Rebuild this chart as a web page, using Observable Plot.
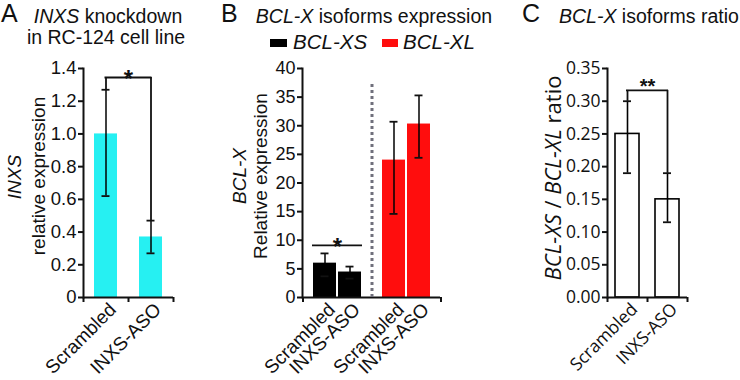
<!DOCTYPE html>
<html><head><meta charset="utf-8">
<script src="https://cdn.jsdelivr.net/npm/d3@7"></script>
<script src="https://cdn.jsdelivr.net/npm/@observablehq/plot@0.6"></script>
<style>
body{margin:0;background:#fff;}
#wrap{position:relative;width:740px;height:380px;overflow:hidden;font-family:"Liberation Sans",Arial,sans-serif;color:#111;background:#fff;}
.abs{position:absolute;white-space:nowrap;}
.ctr{transform:translateX(-50%);}
.panel{position:absolute;top:0;height:380px;}
.rot{position:absolute;white-space:nowrap;transform:translate(-50%,-50%) rotate(-90deg);}
.sw{position:absolute;}
</style></head><body>
<div id="wrap">
  <div class="panel" id="pa" style="left:0;width:190px"></div>
  <div class="panel" id="pb" style="left:190px;width:310px"></div>
  <div class="panel" id="pc" style="left:500px;width:240px"></div>

  <div class="abs" style="left:1px;top:1px;font-size:25px;line-height:25px">A</div>
  <div class="abs ctr" style="left:108px;top:7px;font-size:19.5px;line-height:19.5px"><i>INXS</i> knockdown</div>
  <div class="abs ctr" style="left:106px;top:28px;font-size:19.5px;line-height:19.5px">in RC-124 cell line</div>
  <div class="rot" style="left:14px;top:177px;font-size:19px;line-height:19px"><i>INXS</i></div>
  <div class="rot" style="left:38px;top:176px;font-size:19px;line-height:19px">relative expression</div>

  <div class="abs" style="left:221px;top:1px;font-size:25px;line-height:25px">B</div>
  <div class="abs ctr" style="left:374px;top:7px;font-size:19.5px;line-height:19.5px"><i>BCL-X</i> isoforms expression</div>
  <div class="sw" style="left:270px;top:39px;width:17px;height:8px;background:#000"></div>
  <div class="abs" style="left:293px;top:32px;font-size:20.5px;line-height:20.5px"><i>BCL-XS</i></div>
  <div class="sw" style="left:382px;top:39px;width:16px;height:8px;background:#ff0d0d"></div>
  <div class="abs" style="left:403px;top:32px;font-size:20.5px;line-height:20.5px"><i>BCL-XL</i></div>
  <div class="rot" style="left:239px;top:176px;font-size:19px;line-height:19px"><i>BCL-X</i></div>
  <div class="rot" style="left:260px;top:176px;font-size:19px;line-height:19px">Relative expression</div>

  <div class="abs" style="left:522px;top:1px;font-size:25px;line-height:25px">C</div>
  <div class="abs" style="left:559px;top:7px;font-size:19.5px;line-height:19.5px"><i>BCL-X</i> isoforms ratio</div>
  <div class="rot" style="left:552px;top:178px;font-size:22px;line-height:22px;font-family:'Open Sans',sans-serif"><i>BCL-XS</i> / <i>BCL-XL</i> ratio</div>
</div>
<script>
// ---------- data ----------
const catsA = ["Scrambled", "INXS-ASO"];
const valA = [1.0, 0.37];
const loA = [0.62, 0.27];
const hiA = [1.27, 0.47];
const sigA = {y: 1.345, label: "*"};
const ticksA = [0, 0.2, 0.4, 0.6, 0.8, 1.0, 1.2, 1.4];

const groupsB = ["BCL-XS", "BCL-XL"];
const catsB = ["Scrambled", "INXS-ASO"];
const valXS = [6.0, 4.45];
const loXS = [3.7, 3.3];
const hiXS = [7.7, 5.4];
const valXL = [24.0, 30.3];
const loXL = [14.6, 24.4];
const hiXL = [30.7, 35.3];
const sigB = {y: 9.1, label: "*"};
const ticksB = [0, 5, 10, 15, 20, 25, 30, 35, 40];
const colorsB = ["#000000", "#ff0d0d"];

const catsC = ["Scrambled", "INXS-ASO"];
const valC = [0.25, 0.15];
const loC = [0.19, 0.115];
const hiC = [0.30, 0.19];
const sigC = {y: 0.3165, label: "**"};
const ticksC = [0, 0.05, 0.1, 0.15, 0.2, 0.25, 0.3, 0.35];

const FONT = "'Liberation Sans', Arial, sans-serif";
const FONTC = "'Open Sans', sans-serif";

// ---------- Panel A ----------
{
  const W = 190, ML = 83, MR = 17;
  const step = (W - ML - MR) / catsA.length;
  const data = catsA.map((c, i) => ({cat: c, v: valA[i], lo: loA[i], hi: hiA[i]}));
  const br = [{x: catsA[0], y1: hiA[0], y2: sigA.y}, {x: catsA[1], y1: hiA[1], y2: sigA.y}];
  const p = Plot.plot({
    width: W, height: 380, marginLeft: ML, marginRight: MR, marginTop: 68, marginBottom: 83,
    style: {fontFamily: FONT, fontSize: "18px", background: "transparent", overflow: "visible", color: "#111"},
    x: {type: "band", domain: catsA, padding: 0},
    y: {domain: [0, 1.4]},
    marks: [
      Plot.barY(data, {x: "cat", y: "v", fill: "#26f0f2", insetLeft: 11, insetRight: 11}),
      Plot.ruleX(data, {x: "cat", y1: "lo", y2: "hi", stroke: "#000", strokeWidth: 1.5}),
      Plot.tickY(data, {x: "cat", y: "lo", insetLeft: step / 2 - 4, insetRight: step / 2 - 4, strokeWidth: 1.8}),
      Plot.tickY(data, {x: "cat", y: "hi", insetLeft: step / 2 - 4, insetRight: step / 2 - 4, strokeWidth: 1.8}),
      Plot.ruleX(br, {x: "x", y1: "y1", y2: "y2", strokeWidth: 1.8}),
      Plot.ruleY([sigA], {y: "y", x1: () => catsA[0], x2: () => catsA[1], insetLeft: step / 2 - 1, insetRight: step / 2 - 1, strokeWidth: 1.8}),
      Plot.text([sigA], {x: () => catsA[0], y: "y", text: "label", dx: step / 2, dy: 10, lineAnchor: "bottom", fontSize: 24, fontWeight: "bold"}),
      Plot.ruleY([0], {strokeWidth: 2}),
      Plot.frame({anchor: "left", strokeWidth: 2}),
      Plot.ruleX(catsA, {x: d => d, y1: 0, y2: 0, insetBottom: -5, dx: -step / 2, strokeWidth: 2}),
      Plot.ruleX(catsA.slice(-1), {x: d => d, y1: 0, y2: 0, insetBottom: -5, dx: step / 2, strokeWidth: 2}),
      Plot.axisY({ticks: ticksA, tickFormat: d => d === 0 ? "0" : d.toFixed(1), tickSize: 5, tickPadding: 2, label: null, strokeWidth: 2, fontSize: 18.5}),
      Plot.axisX({tickSize: 0, tickRotate: -45, tickPadding: 9, dx: 7, label: null, fontSize: 19})
    ]
  });
  document.getElementById("pa").append(p);
}

// ---------- Panel B ----------
{
  const W = 310, ML = 112, MR = 60;
  const padOuter = 0.38;
  const facetW = (W - ML - MR) / groupsB.length;
  const step = facetW / (catsB.length + 2 * padOuter);
  const rows = [];
  catsB.forEach((c, i) => rows.push({g: groupsB[0], cat: c, v: valXS[i], lo: loXS[i], hi: hiXS[i]}));
  catsB.forEach((c, i) => rows.push({g: groupsB[1], cat: c, v: valXL[i], lo: loXL[i], hi: hiXL[i]}));
  const edge = step * (0.5 + padOuter);
  const p = Plot.plot({
    width: W, height: 380, marginLeft: ML, marginRight: MR, marginTop: 68, marginBottom: 83,
    style: {fontFamily: FONT, fontSize: "18px", background: "transparent", overflow: "visible", color: "#111"},
    fx: {domain: groupsB, padding: 0, axis: null},
    x: {type: "band", domain: catsB, paddingInner: 0, paddingOuter: padOuter},
    y: {domain: [0, 40]},
    color: {domain: groupsB, range: colorsB},
    marks: [
      Plot.barY(rows, {fx: "g", x: "cat", y: "v", fill: "g", insetLeft: 1, insetRight: 1}),
      Plot.ruleX(rows, {fx: "g", x: "cat", y1: "lo", y2: "hi", stroke: "#000", strokeWidth: 1.5}),
      Plot.tickY(rows, {fx: "g", x: "cat", y: "lo", insetLeft: step / 2 - 4, insetRight: step / 2 - 4, strokeWidth: 1.8}),
      Plot.tickY(rows, {fx: "g", x: "cat", y: "hi", insetLeft: step / 2 - 4, insetRight: step / 2 - 4, strokeWidth: 1.8}),
      Plot.ruleY([{g: groupsB[0], y: sigB.y}], {fx: "g", y: "y", x1: () => catsB[0], x2: () => catsB[1], strokeWidth: 1.8}),
      Plot.text([{g: groupsB[0], y: sigB.y, label: sigB.label}], {fx: "g", x: () => catsB[0], y: "y", text: "label", dx: step / 2, dy: 10, lineAnchor: "bottom", fontSize: 24, fontWeight: "bold"}),
      Plot.ruleY([0], {strokeWidth: 2}),
      Plot.frame({anchor: "left", facetAnchor: "left", strokeWidth: 2}),
      Plot.ruleX([{g: groupsB[1], c: catsB[0]}], {fx: "g", x: "c", y1: 0, y2: 40, dx: -edge, insetBottom: -16, stroke: "#70707c", strokeWidth: 3, strokeDasharray: "3 3"}),
      Plot.ruleX([{g: groupsB[0], c: catsB[0]}], {fx: "g", x: "c", y1: 0, y2: 0, insetBottom: -5, dx: -edge, strokeWidth: 2}),
      Plot.ruleX([{g: groupsB[1], c: catsB[1]}], {fx: "g", x: "c", y1: 0, y2: 0, insetBottom: -5, dx: edge, strokeWidth: 2}),
      Plot.axisY({ticks: ticksB, tickSize: 5, tickPadding: 2, label: null, strokeWidth: 2, fontSize: 18}),
      Plot.axisX({tickSize: 0, tickRotate: -45, tickPadding: 9, dx: 7, label: null, fontSize: 19})
    ]
  });
  document.getElementById("pb").append(p);
}

// ---------- Panel C ----------
{
  const W = 240, ML = 107, MR = 53;
  const step = (W - ML - MR) / catsC.length;
  const data = catsC.map((c, i) => ({cat: c, v: valC[i], lo: loC[i], hi: hiC[i]}));
  const br = [{x: catsC[0], y1: hiC[0], y2: sigC.y}, {x: catsC[1], y1: hiC[1], y2: sigC.y}];
  const p = Plot.plot({
    width: W, height: 380, marginLeft: ML, marginRight: MR, marginTop: 68, marginBottom: 83,
    style: {fontFamily: FONTC, fontSize: "17px", background: "transparent", overflow: "visible", color: "#111"},
    x: {type: "band", domain: catsC, padding: 0},
    y: {domain: [0, 0.35]},
    marks: [
      Plot.barY(data, {x: "cat", y: "v", fill: "#fff", stroke: "#000", strokeWidth: 1.6, insetLeft: 8, insetRight: 8}),
      Plot.ruleX(data, {x: "cat", y1: "lo", y2: "hi", stroke: "#000", strokeWidth: 1.6}),
      Plot.tickY(data, {x: "cat", y: "lo", insetLeft: step / 2 - 4, insetRight: step / 2 - 4, strokeWidth: 1.8}),
      Plot.tickY(data, {x: "cat", y: "hi", insetLeft: step / 2 - 4, insetRight: step / 2 - 4, strokeWidth: 1.8}),
      Plot.ruleX(br, {x: "x", y1: "y1", y2: "y2", strokeWidth: 1.8}),
      Plot.ruleY([sigC], {y: "y", x1: () => catsC[0], x2: () => catsC[1], insetLeft: step / 2 - 1, insetRight: step / 2 - 1, strokeWidth: 1.8}),
      Plot.text([sigC], {x: () => catsC[0], y: "y", text: "label", dx: step / 2, dy: 3, lineAnchor: "bottom", fontSize: 20, fontWeight: "bold", fontFamily: FONT}),
      Plot.ruleY([0], {strokeWidth: 2}),
      Plot.frame({anchor: "left", strokeWidth: 2}),
      Plot.ruleX(catsC, {x: d => d, y1: 0, y2: 0, insetBottom: -5, dx: -step / 2, strokeWidth: 2}),
      Plot.ruleX(catsC.slice(-1), {x: d => d, y1: 0, y2: 0, insetBottom: -5, dx: step / 2, strokeWidth: 2}),
      Plot.axisY({ticks: ticksC, tickSize: 5, tickPadding: 2, label: null, strokeWidth: 2, fontSize: 17.5}),
      Plot.axisX({tickSize: 0, tickRotate: -45, tickPadding: 9, dx: 7, label: null, fontSize: 17.5})
    ]
  });
  document.getElementById("pc").append(p);
}
</script>
</body></html>
